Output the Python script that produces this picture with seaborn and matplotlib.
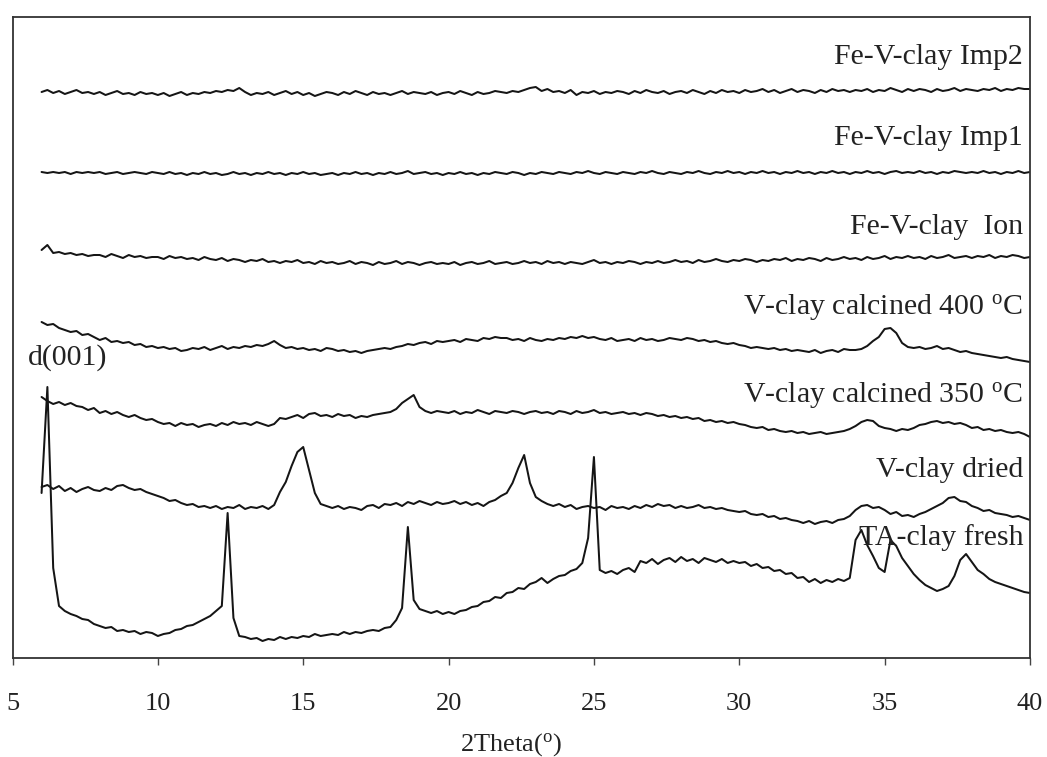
import numpy as np
import pandas as pd
import matplotlib
matplotlib.use("Agg")
import matplotlib.pyplot as plt
import seaborn as sns

# 2-theta scan grid (degrees), 0.2 deg steps
two_theta = np.round(np.arange(6.0, 40.0001, 0.2), 1)

# Stacked diffractograms (offset intensities, arbitrary units), bottom to top
ta_clay_fresh = [
    165, 271, 90, 52, 47, 44, 42, 39, 38, 34,
    32, 30, 31, 27, 28, 26, 27, 24, 26, 25,
    22, 24, 25, 28, 29, 32, 33, 36, 39, 42,
    47, 52, 145, 40, 22, 21, 19, 20, 17, 19,
    18, 21, 19, 21, 20, 22, 21, 24, 22, 23,
    24, 23, 26, 24, 26, 25, 27, 28, 27, 30,
    31, 38, 50, 131, 58, 49, 47, 45, 47, 44,
    46, 44, 47, 48, 51, 52, 56, 57, 61, 60,
    65, 66, 70, 69, 74, 76, 80, 75, 79, 82,
    83, 87, 89, 95, 120, 201, 88, 85, 87, 84,
    88, 90, 86, 97, 95, 99, 94, 98, 100, 96,
    101, 97, 99, 95, 100, 98, 96, 99, 95, 97,
    95, 96, 92, 94, 90, 91, 87, 88, 84, 85,
    80, 81, 76, 79, 75, 78, 76, 79, 77, 80,
    118, 128, 113, 102, 90, 86, 118, 112, 100, 92,
    84, 78, 73, 70, 67, 69, 72, 82, 98, 104,
    96, 88, 84, 79, 76, 74, 72, 70, 68, 66,
    65,
]

v_clay_dried = [
    171, 173, 169, 172, 167, 170, 166, 169, 171, 168,
    167, 170, 168, 172, 173, 170, 168, 169, 166, 164,
    162, 160, 157, 158, 155, 153, 154, 151, 152, 150,
    152, 149, 151, 150, 153, 149, 151, 150, 152, 149,
    153, 166, 176, 192, 206, 211, 188, 165, 154, 152,
    150, 152, 149, 151, 150, 148, 152, 153, 150, 154,
    153, 155, 152, 156, 154, 157, 155, 153, 156, 154,
    155, 157, 154, 156, 153, 155, 152, 156, 158, 162,
    165, 175, 190, 203, 175, 161, 157, 154, 152, 154,
    151, 153, 149, 151, 152, 150, 151, 148, 152, 150,
    151, 149, 152, 150, 153, 151, 154, 152, 153, 150,
    152, 150, 151, 153, 150, 151, 149, 150, 148, 147,
    146, 147, 144, 143, 144, 141, 142, 139, 140, 138,
    137, 135, 137, 134, 136, 137, 135, 138, 139, 142,
    148, 152, 153, 150, 151, 148, 144, 146, 142, 143,
    141, 144, 146, 149, 152, 155, 160, 161, 157, 156,
    152, 150, 147, 148, 145, 144, 143, 141, 142, 140,
    138,
]

v_clay_calc_350 = [
    261, 257, 254, 256, 253, 255, 252, 251, 248, 250,
    245, 247, 244, 246, 243, 241, 243, 240, 238, 239,
    236, 234, 235, 232, 235, 233, 234, 231, 233, 234,
    232, 235, 233, 236, 234, 235, 233, 236, 234, 232,
    234, 240, 239, 241, 243, 240, 244, 245, 242, 243,
    241, 244, 242, 243, 240, 242, 241, 243, 244, 245,
    246, 249, 255, 259, 263, 251, 247, 245, 247, 246,
    245, 247, 244, 246, 245, 248, 246, 244, 247, 246,
    245, 247, 246, 244, 246, 247, 245, 246, 244, 247,
    246, 244, 247, 245, 246, 248, 245, 246, 244, 245,
    246, 244, 245, 243, 245, 244, 242, 243, 241, 242,
    240, 241, 239, 240, 237, 238, 236, 237, 235, 236,
    234, 233, 231, 230, 231, 228, 229, 227, 226, 227,
    225, 226, 224, 225, 226, 224, 225, 226, 227, 229,
    232, 236, 238, 237, 232, 230, 229, 227, 229, 228,
    230, 233, 234, 236, 237, 235, 236, 234, 235, 233,
    230, 231, 228, 229, 227, 228, 226, 225, 226, 224,
    221,
]

v_clay_calc_400 = [
    336, 333, 334, 330, 328, 326, 327, 323, 324, 321,
    318, 320, 316, 317, 315, 316, 313, 314, 311, 312,
    310, 311, 309, 310, 307, 308, 310, 309, 311, 308,
    310, 312, 309, 311, 310, 312, 311, 313, 312, 314,
    317, 313, 310, 311, 309, 310, 308, 309, 307, 310,
    309, 307, 308, 306, 307, 305, 307, 308, 309, 310,
    309, 311, 312, 314, 313, 315, 316, 314, 317, 316,
    317, 318, 316, 319, 318, 317, 320, 319, 321, 320,
    320, 318, 319, 317, 320, 318, 317, 319, 318, 320,
    319, 321, 320, 322, 320, 321, 319, 318, 320, 317,
    318, 319, 317, 320, 318, 319, 317, 318, 320, 319,
    318, 320, 319, 317, 318, 316, 317, 315, 314, 315,
    313, 312, 310, 311, 310, 309, 310, 308, 309, 307,
    308, 307, 306, 308, 305, 307, 308, 306, 309, 308,
    308, 309, 312, 317, 321, 329, 330, 325, 315, 311,
    310, 311, 309, 310, 312, 309, 310, 308, 306, 307,
    305, 304, 303, 302, 301, 300, 301, 299, 298, 297,
    296,
]

fe_v_clay_ion = [
    408, 413, 405, 406, 404, 405, 403, 404, 402, 403,
    403, 401, 404, 402, 400, 403, 401, 402, 400, 401,
    401, 399, 402, 400, 401, 399, 400, 398, 401, 399,
    398, 400, 397, 399, 398, 396, 398, 397, 399, 396,
    397, 395, 397, 396, 398, 395, 396, 394, 397, 395,
    396, 394, 395, 397, 394, 396, 395, 393, 396, 394,
    395, 397, 394, 396, 395, 393, 395, 396, 394, 395,
    394, 396, 393, 395, 396, 394, 395, 397, 394, 395,
    396, 394, 395, 397, 395, 396, 394, 397, 395, 396,
    394, 396, 395, 394, 396, 398, 395, 396, 394, 396,
    395, 397, 396, 394, 396, 395, 397, 395, 396, 398,
    396, 397, 395, 398, 396, 397, 399, 397, 396, 398,
    397, 399, 398, 396, 398, 397, 399, 398, 400, 397,
    399, 398, 400, 399, 397, 400, 398, 399, 401, 399,
    400, 398, 401, 399, 400, 402, 399, 401, 400, 402,
    400, 401, 399, 402, 400, 401, 403, 400, 401, 402,
    400, 402, 401, 403, 400, 402, 401, 403, 402, 400,
    401,
]

fe_v_clay_imp1 = [
    486, 485, 486, 485, 486, 484, 486, 485, 486, 485,
    486, 484, 485, 486, 484, 485, 486, 485, 484, 486,
    485, 484, 486, 484, 485, 483, 485, 484, 486, 484,
    485, 483, 484, 486, 484, 485, 483, 485, 484, 486,
    484, 485, 483, 485, 484, 486, 484, 485, 483, 484,
    485, 483, 485, 484, 486, 484, 485, 483, 485, 484,
    486, 484, 485, 487, 484, 485, 486, 484, 485, 483,
    485, 484, 486, 484, 485, 483, 485, 484, 486, 485,
    484, 486, 485, 483, 485, 484, 486, 485, 484, 486,
    485, 484, 486, 485, 487, 485, 484, 486, 485, 484,
    486, 485, 484, 486, 485, 487, 485, 484, 486, 485,
    484, 486, 485, 487, 485, 484, 486, 485, 487, 485,
    486, 484, 486, 485, 487, 485, 486, 484, 486, 485,
    487, 485, 486, 484, 486, 485, 487, 485, 486, 484,
    486, 485, 487, 485, 486, 484, 486, 487, 485, 486,
    485, 487, 485, 486, 484, 486, 485, 487, 486, 485,
    486, 485, 487, 485, 486, 484, 486, 485, 487, 485,
    486,
]

fe_v_clay_imp2 = [
    566, 568, 565, 567, 564, 566, 568, 565, 566, 564,
    566, 563, 565, 567, 564, 565, 563, 566, 564, 565,
    563, 565, 562, 564, 566, 563, 565, 564, 566, 565,
    567, 566, 568, 567, 570, 566, 563, 565, 564, 566,
    563, 565, 567, 564, 566, 563, 565, 562, 564, 566,
    565, 563, 566, 564, 567, 565, 563, 566, 564, 565,
    563, 565, 567, 564, 566, 565, 564, 566, 563, 565,
    566, 564, 567, 565, 563, 566, 564, 565, 567, 566,
    565, 567, 566, 568, 570, 571, 567, 569, 566, 567,
    565, 568, 563, 566, 565, 567, 564, 566, 565, 567,
    566, 564, 567, 565, 568, 566, 565, 567, 564, 566,
    567, 565, 568, 566, 564, 567, 565, 568, 566, 567,
    565, 568, 566, 567, 569, 566, 568, 565, 567, 569,
    566, 568, 567, 565, 568, 566, 569, 567, 568, 566,
    568, 567, 569, 566, 568, 567, 570, 568, 566, 569,
    567, 569, 568, 566, 569, 567, 568, 570, 567, 569,
    568, 567, 569, 568, 570, 567, 569, 568, 570, 569,
    569,
]

sample_names = [
    "TA-clay fresh", "V-clay dried", "V-clay calcined 350 $^{\\mathrm{o}}$C",
    "V-clay calcined 400 $^{\\mathrm{o}}$C", "Fe-V-clay  Ion",
    "Fe-V-clay Imp1", "Fe-V-clay Imp2",
]
label_heights = [120, 188, 263, 351, 431, 520, 601]
x_ticks = [5, 10, 15, 20, 25, 30, 35, 40]

series = [ta_clay_fresh, v_clay_dried, v_clay_calc_350, v_clay_calc_400,
          fe_v_clay_ion, fe_v_clay_imp1, fe_v_clay_imp2]

frames = []
for name, vals in zip(sample_names, series):
    frames.append(pd.DataFrame({"two_theta": two_theta,
                                "intensity": np.asarray(vals, float),
                                "sample": name}))
df = pd.concat(frames, ignore_index=True)

sns.set_theme(style="ticks")
plt.rcParams["font.family"] = ["Liberation Serif", "DejaVu Serif"]
plt.rcParams["mathtext.fontset"] = "custom"
plt.rcParams["mathtext.rm"] = "Liberation Serif"
plt.rcParams["mathtext.it"] = "Liberation Serif:italic"

fig = plt.figure(figsize=(10.47, 7.57), dpi=100)
ax = fig.add_axes([0.01194, 0.13078, 0.97182, 0.84676])

sns.lineplot(data=df, x="two_theta", y="intensity", units="sample",
             estimator=None, sort=True, color="#151515", linewidth=1.45,
             legend=False, ax=ax)

ax.set_xlim(5, 40)
ax.set_ylim(0, 641)
ax.set_xticks(x_ticks)
ax.set_xticklabels([str(t) for t in x_ticks])
ax.set_yticks([])
ax.set_ylabel("")
ax.set_xlabel("")
ax.tick_params(axis="x", direction="out", length=5, width=1, color="#444444",
               labelsize=19, labelcolor="#222222", pad=20)

fig.text(0.488, 0.0085, "2Theta($^{\\mathrm{o}}$)", ha="center", va="baseline",
         fontsize=19, color="#222222")

for side in ["left", "right", "top", "bottom"]:
    ax.spines[side].set_visible(True)
    ax.spines[side].set_color("#333333")
    ax.spines[side].set_linewidth(1.3)

for name, h in zip(sample_names, label_heights):
    ax.text(39.76, h, name, ha="right", va="center", fontsize=21.5, color="#222222")

ax.text(6.9, 300, "d(001)", ha="center", va="center", fontsize=21.5, color="#222222")

fig.savefig("out.png", dpi=100, facecolor="white")
